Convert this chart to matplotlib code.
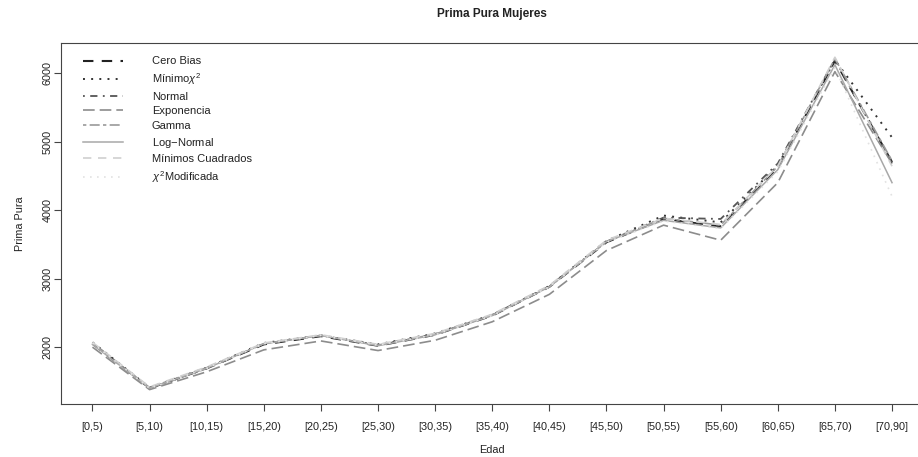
import matplotlib
matplotlib.use("Agg")
import matplotlib.pyplot as plt
import numpy as np

plt.rcParams['font.family'] = ['Liberation Sans', 'DejaVu Sans']
plt.rcParams['mathtext.fontset'] = 'custom'
plt.rcParams['mathtext.rm'] = 'Liberation Sans'
plt.rcParams['mathtext.it'] = 'Liberation Sans:italic'

edades = ["[0,5)", "[5,10)", "[10,15)", "[15,20)", "[20,25)", "[25,30)", "[30,35)",
          "[35,40)", "[40,45)", "[45,50)", "[50,55)", "[55,60)", "[60,65)", "[65,70)", "[70,90]"]

cero_bias = [2050, 1400, 1690, 2040, 2160, 2020, 2180, 2460, 2880, 3530, 3870, 3760, 4620, 6180, 4700]
minimo_chi2 = [2070, 1410, 1700, 2060, 2170, 2040, 2200, 2470, 2890, 3550, 3920, 3820, 4650, 6190, 5060]
normal = [2060, 1400, 1690, 2050, 2170, 2030, 2190, 2470, 2890, 3540, 3890, 3870, 4680, 6200, 4680]
exponencia = [2000, 1380, 1640, 1960, 2090, 1950, 2100, 2370, 2770, 3410, 3780, 3560, 4400, 6020, 4680]
gamma = [2060, 1410, 1700, 2050, 2170, 2030, 2190, 2470, 2880, 3540, 3880, 3780, 4640, 6210, 4720]
log_normal = [2040, 1400, 1690, 2050, 2170, 2020, 2180, 2460, 2880, 3540, 3850, 3740, 4590, 6120, 4400]
minimos_cuadrados = [2070, 1420, 1710, 2060, 2180, 2040, 2200, 2480, 2900, 3560, 3880, 3790, 4640, 6230, 4640]
chi2_modificada = [2060, 1400, 1690, 2050, 2170, 2030, 2180, 2460, 2880, 3530, 3840, 3730, 4560, 6080, 4200]

y_ticks = [2000, 3000, 4000, 5000, 6000]

series = [
    ("Cero Bias", cero_bias, "#222222", (0, (5, 4)), 1.5),
    ("Mínimo$\\chi^2$", minimo_chi2, "#333333", (0, (1, 3.2)), 1.4),
    ("Normal", normal, "#555555", (0, (1, 3, 4, 3)), 1.3),
    ("Exponencia", exponencia, "#8c8c8c", (0, (7, 3)), 1.2),
    ("Gamma", gamma, "#9a9a9a", (0, (2, 2, 6, 2)), 1.2),
    ("Log$-$Normal", log_normal, "#a8a8a8", "-", 1.1),
    ("Mínimos Cuadrados", minimos_cuadrados, "#cfcfcf", (0, (5, 4)), 1.2),
    ("$\\chi^2$Modificada", chi2_modificada, "#e2e2e2", (0, (1, 3.2)), 1.2),
]

W, H = 918, 457
fig = plt.figure(figsize=(W / 100, H / 100), dpi=100)
left, right, top, bottom = 60.5, 924, 43, 404
ax = fig.add_axes([left / W, (H - bottom) / H, (right - left) / W, (bottom - top) / H])

x = np.arange(1, len(edades) + 1)
for name, vals, col, ls, lw in series:
    ax.plot(x, vals, color=col, linestyle=ls, linewidth=lw, label=name)

ax.set_xlim(0.44, 15.56)
ax.set_ylim(1170, 6438)
ax.set_xticks(x)
ax.set_xticklabels(edades)
ax.set_yticks(y_ticks)
ax.set_yticklabels([str(v) for v in y_ticks], rotation=90, va='center')
ax.tick_params(axis='both', direction='out', length=5, width=0.8, color='#444444',
               labelsize=7.8, labelcolor='#222222')
ax.tick_params(axis='x', pad=8)
ax.tick_params(axis='y', pad=0.5)
for sp in ax.spines.values():
    sp.set_color('#444444')
    sp.set_linewidth(0.8)

ax.set_xlabel("Edad", fontsize=7.8, color='#222222', labelpad=9)
ax.set_ylabel("Prima Pura", fontsize=7.8, color='#222222', labelpad=13)
fig.text(492 / W, 1 - 14 / H, "Prima Pura Mujeres", ha='center', va='center',
         fontsize=8.5, fontweight='bold', color='#222222')

leg = ax.legend(loc='upper left', bbox_to_anchor=(0.021, 0.975), frameon=False,
                fontsize=8, handlelength=3.6, handletextpad=2.6, labelspacing=0.42,
                borderaxespad=0)
for t in leg.get_texts():
    t.set_color('#222222')

fig.savefig("out.png", dpi=100)
